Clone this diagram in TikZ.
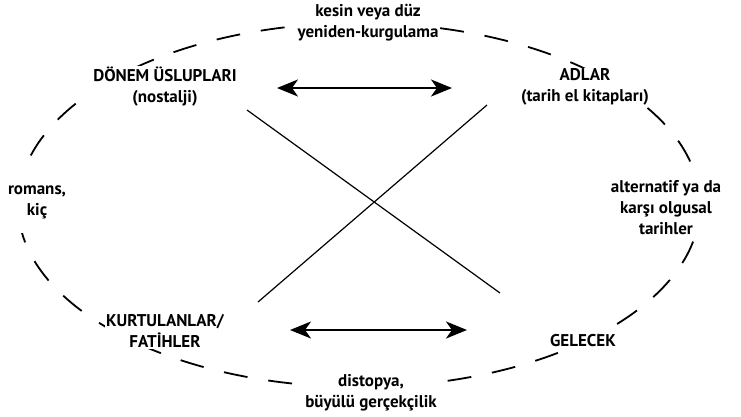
\documentclass[tikz,border=0pt]{standalone}
\usepackage{fontspec}
\setmainfont{PT Sans}
\usetikzlibrary{arrows.meta}
\begin{document}
\begin{tikzpicture}[x=1pt,y=-1pt,
  lbl/.style={font=\fontsize{17}{21}\selectfont\bfseries, align=center, fill=white, inner sep=1pt},
  ring/.style={line width=1.8pt, dash pattern=on 24pt off 21pt},
  cross/.style={line width=1.2pt},
  tip/.style={},
  dbl/.style={line width=2.4pt, {Stealth[length=21pt,width=17pt,inset=6pt]}-{Stealth[length=21pt,width=17pt,inset=6pt]}}]
\useasboundingbox (0,0) rectangle (741,416);
\draw[ring] (359,205) ellipse [x radius=341pt, y radius=182pt];
\coordinate (l1a) at (247,110);
\coordinate (l1b) at (500,293);
\coordinate (l2a) at (487,105);
\coordinate (l2b) at (258,302);
\draw[cross] (l1a) -- (l1b);
\draw[cross] (l2a) -- (l2b);
\node[lbl] (per) at (165,87) {DÖNEM ÜSLUPLARI\\(nostalji)};
\node[lbl] (adl) at (585,87) {ADLAR\\(tarih el kitapları)};
\node[lbl] (kes) at (368,23) {kesin veya düz\\yeniden-kurgulama};
\node[lbl, inner ysep=14pt] (rom) at (37,202) {romans,\\kiç};
\node[lbl, inner ysep=5pt] (alt) at (666,208) {alternatif ya da\\karşı olgusal\\tarihler};
\node[lbl] (kur) at (165,331) {KURTULANLAR/\\FATİHLER};
\node[lbl] (gel) at (583,341) {GELECEK};
\node[lbl] (dis) at (371,393) {distopya,\\büyülü gerçekçilik};
\coordinate (a1) at (277,88);
\coordinate (a2) at (452,88);
\coordinate (b1) at (290,330);
\coordinate (b2) at (467,330);
\draw[dbl] (a1) -- (a2);
\draw[dbl] (b1) -- (b2);
\end{tikzpicture}
\end{document}
